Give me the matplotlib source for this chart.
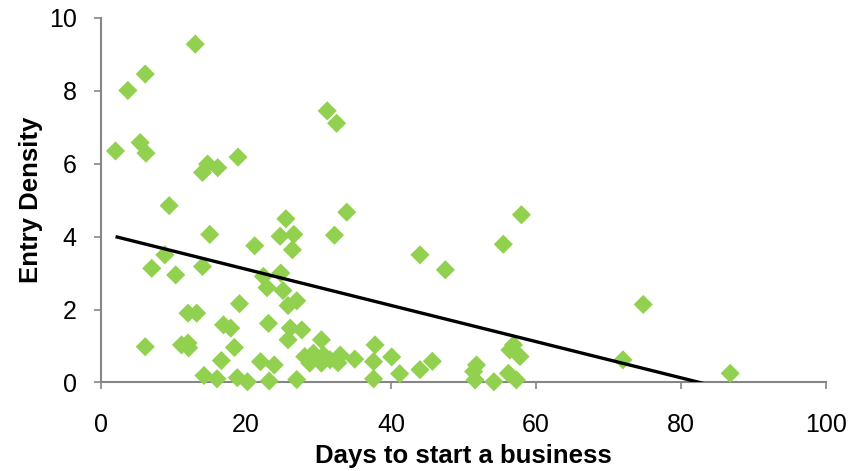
import matplotlib
matplotlib.use("Agg")
import matplotlib.pyplot as plt

days = [2.0, 3.7, 6.1, 5.4, 6.2, 13.0, 31.2, 32.5, 14.0, 14.7, 16.1, 18.9,
        9.4, 15.0, 8.8, 7.0, 10.3, 14.0, 21.2, 25.5, 24.7, 26.6, 26.4, 32.2,
        33.9, 22.4, 22.9, 24.8, 25.1, 25.8, 27.0, 19.1, 12.0, 13.2, 16.9, 17.9,
        23.1, 26.1, 27.7, 25.8, 6.1, 11.1, 12.0, 12.1, 18.4, 16.6, 14.2, 16.0,
        18.8, 20.2, 22.0, 23.9, 23.2, 27.0, 28.1, 28.8, 29.3, 30.4, 30.7, 30.4,
        31.6, 32.7, 33.0, 35.0, 37.8, 37.6, 37.6, 40.1, 41.2, 44.0, 45.7, 44.0,
        47.5, 51.4, 51.6, 51.8, 54.2, 56.2, 57.3, 55.5, 58.0, 56.9, 57.8, 56.4,
        72.0, 74.8, 86.8]
entry = [6.35, 8.01, 8.46, 6.58, 6.29, 9.28, 7.45, 7.11, 5.76, 5.99, 5.89, 6.18,
         4.85, 4.06, 3.50, 3.13, 2.95, 3.18, 3.75, 4.49, 4.01, 4.06, 3.64, 4.04,
         4.67, 2.91, 2.60, 3.00, 2.52, 2.11, 2.24, 2.16, 1.90, 1.90, 1.58, 1.49,
         1.62, 1.49, 1.44, 1.17, 0.98, 1.03, 1.08, 0.95, 0.96, 0.60, 0.19, 0.10,
         0.13, 0.02, 0.57, 0.48, 0.04, 0.08, 0.71, 0.53, 0.80, 1.17, 0.75, 0.53,
         0.62, 0.54, 0.75, 0.64, 1.03, 0.57, 0.10, 0.70, 0.24, 0.35, 0.58, 3.50,
         3.09, 0.30, 0.07, 0.48, 0.02, 0.25, 0.07, 3.79, 4.60, 1.03, 0.71, 0.89,
         0.62, 2.14, 0.25]

trend_x = [2.0, 87.0]
trend_y = [4.00, -0.22]

xticks = [0, 20, 40, 60, 80, 100]
yticks = [0, 2, 4, 6, 8, 10]

plt.rcParams['font.family'] = ['Liberation Sans', 'DejaVu Sans']

fig = plt.figure(figsize=(8.65, 4.71), dpi=100)
ax = fig.add_axes([0.1168, 0.188, 0.838, 0.774])

ax.scatter(days, entry, marker='D', s=95, color='#92D050', edgecolors='none', zorder=3, clip_on=False)
ax.plot(trend_x, trend_y, color='black', lw=2.4, zorder=4, solid_capstyle='butt')

ax.set_xlim(0, 100)
ax.set_ylim(0, 10)
ax.set_xticks(xticks)
ax.set_yticks(yticks)
ax.set_xticklabels([str(v) for v in xticks])
ax.set_yticklabels([str(v) for v in yticks])

for side in ['top', 'right']:
    ax.spines[side].set_visible(False)
for side in ['left', 'bottom']:
    ax.spines[side].set_color('#868686')
    ax.spines[side].set_linewidth(1.5)

ax.tick_params(axis='both', direction='out', length=5, width=1.2, color='#868686',
               labelsize=18, labelcolor='black')
ax.tick_params(axis='x', pad=17)
ax.tick_params(axis='y', pad=12.5)

ax.set_xlabel('Days to start a business', fontsize=18.5, fontweight='bold', labelpad=5)
ax.set_ylabel('Entry Density', fontsize=18.5, fontweight='bold', labelpad=4)

fig.savefig('out.png', dpi=100)
